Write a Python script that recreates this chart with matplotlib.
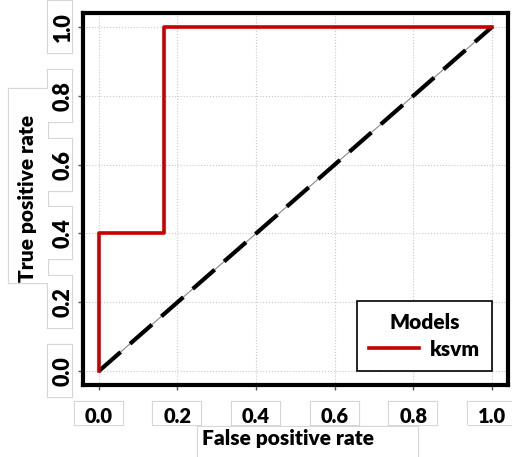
import matplotlib.pyplot as plt
from matplotlib.patches import Rectangle

# ROC curve points for the ksvm model
fpr = [0.0, 0.0, 1 / 6, 1 / 6, 1.0]
tpr = [0.0, 0.4, 0.4, 1.0, 1.0]
model_name = "ksvm"
ticks = [0.0, 0.2, 0.4, 0.6, 0.8, 1.0]
tick_labels = ["0.0", "0.2", "0.4", "0.6", "0.8", "1.0"]

plt.rcParams['font.family'] = ['Lato', 'DejaVu Sans']
plt.rcParams['font.weight'] = 'heavy'

W, H = 512, 457
fig = plt.figure(figsize=(W / 100, H / 100), dpi=100)
ax = fig.add_axes([0.162, 0.1575, 0.83, 0.814])

ax.set_xlim(-0.04, 1.04)
ax.set_ylim(-0.04, 1.04)

# grid
for t in ticks:
    ax.axvline(t, color="#c8c8c8", lw=0.8, ls=":", zorder=0)
    ax.axhline(t, color="#c8c8c8", lw=0.8, ls=":", zorder=0)

# diagonal reference
ax.plot([0, 1], [0, 1], color="#888888", lw=0.8, zorder=1)
ax.plot([0, 1], [0, 1], color="black", lw=3, ls=(0, (7, 3)),
        dash_capstyle="butt", zorder=2)

ax.plot(fpr, tpr, color="#C80000", lw=2.6, label=model_name, zorder=3)

for s in ax.spines.values():
    s.set_linewidth(3)
    s.set_color("black")

ax.set_xticks(ticks)
ax.set_yticks(ticks)
ax.set_xticklabels(tick_labels, fontsize=14.5, va="center")
ax.set_yticklabels(tick_labels, fontsize=15.5, rotation=90, va="center",
                   ha="center")
ax.tick_params(axis="both", direction="out", length=3.6, width=1,
               color="#555555")
ax.tick_params(axis="x", pad=19.4)
ax.tick_params(axis="y", pad=10.4)

leg = ax.legend(loc="lower right", bbox_to_anchor=(1.0, 0.0),
                bbox_transform=ax.transData, borderaxespad=0,
                fancybox=False, edgecolor="black", framealpha=1,
                fontsize=15, title="Models", handlelength=2.4,
                handletextpad=0.5, borderpad=0.6, labelspacing=0.35,
                title_fontproperties={"weight": "heavy", "size": 15})
leg.get_frame().set_linewidth(1.2)
leg._legend_box.align = "center"

# label boxes (light grey outline around the tick and axis labels)
boxes = []
for t in ticks:
    xp, yp = ax.transData.transform((t, t))
    x0, y0 = ax.transAxes.transform((0, 0))
    boxes.append((xp - 24, y0 - 40, 48, 23))
    boxes.append((x0 - 35, yp - 26, 24, 52))
boxes.append((9, H - 283, 39, 194))
boxes.append((198, -5, 220, H - 427 + 5))
for bx, by, bw, bh in boxes:
    r = Rectangle((bx / W, by / H), bw / W, bh / H, transform=fig.transFigure,
                  fill=False, ec="#d6d6d6", lw=1.6, zorder=-3)
    fig.add_artist(r)
for bx, by, bw, bh in boxes:
    r = Rectangle((bx / W, by / H), bw / W, bh / H, transform=fig.transFigure,
                  fc="white", ec="none", zorder=-2)
    fig.add_artist(r)

fig.text(288.5 / W, 18 / H, "False positive rate", fontsize=15,
         ha="center", va="center", zorder=1)
fig.text(27.5 / W, 259 / H, "True positive rate", fontsize=15,
         ha="center", va="center", rotation=90, zorder=1)

fig.savefig("out.png", dpi=100)
